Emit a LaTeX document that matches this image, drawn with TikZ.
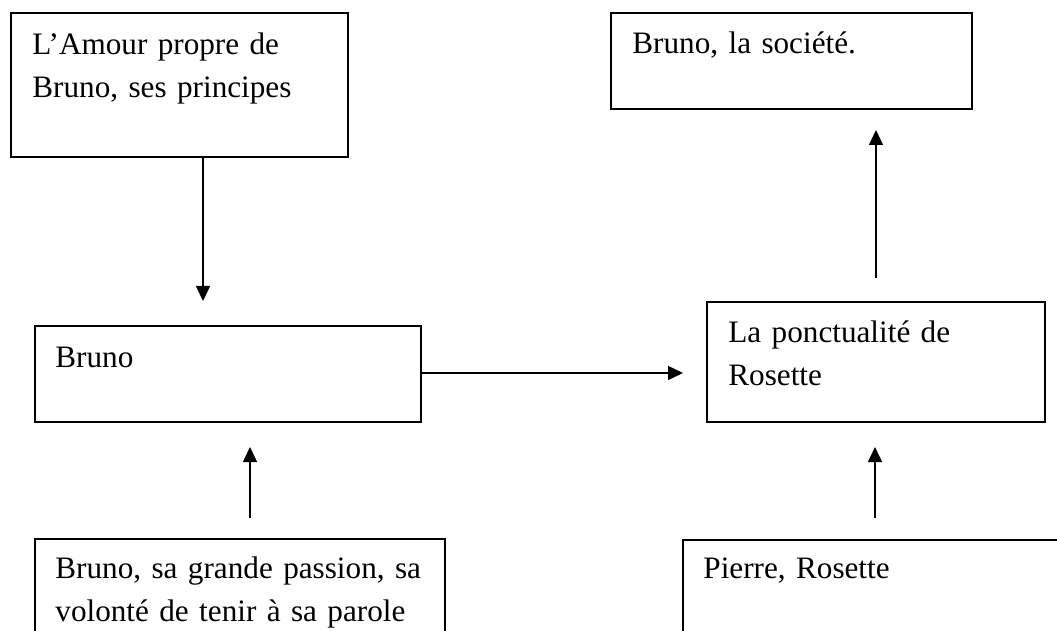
\documentclass[tikz,border=0pt]{standalone}
\usepackage{fontspec}
\setmainfont{Liberation Serif}
\usetikzlibrary{arrows.meta, positioning}

\begin{document}
\begin{tikzpicture}[
    x=0.5pt, y=-0.5pt,
    box/.style={rectangle, draw=black, line width=1pt, inner sep=0pt, outer sep=0pt, anchor=north west},
    txt/.style={inner sep=0pt, anchor=base west, text width=200pt, align=left, font=\fontsize{15.6pt}{21.5pt}\selectfont},
    link/.style={line width=0.7pt, -{Triangle[length=7.5pt, width=7pt]}}
]
\clip (0,0) rectangle (1057,631);

% boxes
\node[box, minimum width=168.5pt, minimum height=72pt] (amour) at (11,13) {};
\node[box, minimum width=180.5pt, minimum height=48pt] (societe) at (611,13) {};
\node[box, minimum width=193pt, minimum height=48pt] (bruno) at (35,326) {};
\node[box, minimum width=169pt, minimum height=60pt] (ponct) at (707,302) {};
\node[box, minimum width=205pt, minimum height=65pt] (passion) at (35,539) {};
\node[box, minimum width=200pt, minimum height=65pt] (pierre) at (683,540) {};

% texts
\node[txt] (amourtxt) at ([shift={(21,42)}]amour.north west) {L’Amour propre de\\Bruno, ses principes};
\node[txt] (societetxt) at ([shift={(21,41)}]societe.north west) {Bruno, la société.};
\node[txt] (brunotxt) at ([shift={(20,41)}]bruno.north west) {Bruno};
\node[txt] (poncttxt) at ([shift={(21,41)}]ponct.north west) {La ponctualité de\\Rosette};
\node[txt] (passiontxt) at ([shift={(20,39)}]passion.north west) {Bruno, sa grande passion, sa\\volonté de tenir à sa parole};
\node[txt] (pierretxt) at ([shift={(20,38)}]pierre.north west) {Pierre, Rosette};

% arrows
\coordinate (amourend) at (203,301);
\coordinate (brunoend) at (683,373);
\coordinate (ponctstart) at (876,278);
\coordinate (ponctend) at (876,130);
\coordinate (passionstart) at (250,518);
\coordinate (passionend) at (250,447);
\coordinate (pierrestart) at (875,518);
\coordinate (pierreend) at (875,447);

\draw[link] (amour.south -| amourend) -- (amourend);
\draw[link] (bruno.east |- brunoend) -- (brunoend);
\draw[link] (ponctstart) -- (ponctend);
\draw[link] (passionstart) -- (passionend);
\draw[link] (pierrestart) -- (pierreend);
\end{tikzpicture}
\end{document}
